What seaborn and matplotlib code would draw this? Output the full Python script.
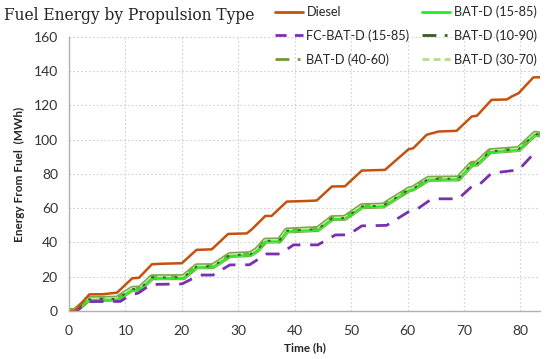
#!/usr/bin/env python3
"""
plot.py - cumulative fuel energy by propulsion type
Usage:
  python3 plot.py
"""
import pandas as pd
import matplotlib.pyplot as plt
from matplotlib.lines import Line2D
import seaborn as sns

# --- data (time in h, energy in MWh) ---
diesel_t = [0, 1.0, 3.6, 6.0, 8.5, 11.2, 12.4, 14.7, 16.5, 20.0, 22.6, 25.3, 28.2,
            31.5, 32.4, 34.8, 35.9, 38.6, 41.8, 43.9, 46.6, 48.9, 51.9, 56.0, 60.2,
            61.0, 63.4, 65.5, 68.7, 71.4, 72.3, 74.9, 77.6, 78.5, 79.7, 82.3, 83.5]
diesel_e = [0, 0, 9.7, 9.8, 10.7, 19.1, 19.4, 27.3, 27.6, 27.9, 35.7, 36.0, 45.0,
            45.3, 47.7, 55.5, 55.5, 63.9, 64.2, 64.5, 72.7, 72.8, 82.0, 82.4, 94.5,
            95.0, 102.9, 104.8, 105.2, 113.6, 114.0, 123.3, 123.5, 125.3, 127.2, 136.4, 136.5]

fc_t = [0, 1.2, 3.5, 9.1, 10.9, 12.3, 14.5, 20.0, 23.2, 25.5, 28.5, 32.0, 35.0,
        37.4, 39.8, 44.1, 47.2, 49.5, 51.9, 56.3, 60.5, 61.5, 64.3, 69.0, 71.7,
        72.8, 74.9, 79.7, 82.3]
fc_e = [0, 0, 5.5, 5.6, 9.4, 10.5, 15.5, 15.8, 21.0, 21.0, 26.9, 27.0, 33.3,
        33.3, 38.6, 38.6, 44.4, 44.5, 49.7, 50.0, 58.6, 59.0, 65.5, 65.5, 73.6,
        74.0, 80.5, 82.4, 91.6]

bat_t = [0, 1.0, 3.5, 8.5, 11.2, 12.6, 14.7, 20.3, 22.6, 25.5, 28.5, 32.1, 33.3,
         34.8, 37.3, 38.6, 44.1, 46.6, 48.9, 51.9, 55.7, 60.2, 61.0, 63.7, 69.0,
         71.4, 72.3, 74.6, 79.7, 82.6, 83.5]
bat_1585_e = [0, 0, 6.4, 6.6, 12.3, 12.6, 19.1, 19.2, 25.5, 25.6, 32.1, 32.6, 35.0,
              40.5, 40.6, 46.4, 47.3, 53.6, 53.8, 60.6, 61.0, 70.3, 71.0, 76.6, 76.8,
              85.3, 85.5, 92.7, 94.0, 102.9, 102.5]
bat_1090_e = [0, 0, 6.9, 7.1, 12.8, 13.1, 19.6, 19.7, 26.0, 26.1, 32.6, 33.1, 35.5,
              41.0, 41.1, 46.9, 47.8, 54.1, 54.3, 61.1, 61.5, 70.8, 71.5, 77.1, 77.3,
              85.8, 86.0, 93.2, 94.5, 103.4, 103.0]
bat_4060_e = [0, 0, 7.0, 7.2, 12.9, 13.2, 19.7, 19.8, 26.1, 26.2, 32.7, 33.2, 35.6,
              41.1, 41.2, 47.0, 47.9, 54.2, 54.4, 61.2, 61.6, 70.9, 71.6, 77.2, 77.4,
              85.9, 86.1, 93.3, 94.6, 103.5, 103.1]
bat_3070_e = [0, 0, 6.8, 7.0, 12.7, 13.0, 19.5, 19.6, 25.9, 26.0, 32.5, 33.0, 35.4,
              40.9, 41.0, 46.8, 47.7, 54.0, 54.2, 61.0, 61.4, 70.7, 71.4, 77.0, 77.2,
              85.7, 85.9, 93.1, 94.4, 103.3, 102.9]

x_ticks = [0, 10, 20, 30, 40, 50, 60, 70, 80]
y_ticks = [0, 20, 40, 60, 80, 100, 120, 140, 160]


def frame(t, e, name):
    return pd.DataFrame({"Time (h)": t, "Energy": e, "series": name})


def main():
    sns.set_style("white")
    plt.rcParams["font.family"] = ["Lato", "DejaVu Sans"]

    fig = plt.figure(figsize=(5.5, 3.59), dpi=100)
    ax = fig.add_axes([0.1255, 0.1337, 0.982 - 0.1255, 0.897 - 0.1337])

    # (data, colour, width, dash pattern), drawn bottom to top
    layers = [
        (frame(bat_t, bat_4060_e, "BAT-D (40-60)"), "#7FA848", 4.4, None),
        (frame(bat_t, bat_3070_e, "BAT-D (30-70)"), "#CDE4B0", 2.6, (4, 1.5)),
        (frame(bat_t, bat_1585_e, "BAT-D (15-85)"), "#22EE22", 1.5, None),
        (frame(bat_t, bat_1090_e, "BAT-D (10-90)"), "#3B5A1E", 1.3, (1.5, 5)),
        (frame(fc_t, fc_e, "FC-BAT-D (15-85)"), "#7A2FB0", 2.0, (5, 3.5)),
        (frame(diesel_t, diesel_e, "Diesel"), "#C4510E", 1.8, None),
    ]
    for df, color, lw, dash in layers:
        sns.lineplot(data=df, x="Time (h)", y="Energy", ax=ax, color=color,
                     lw=lw, legend=False, sort=False, estimator=None)
        if dash is not None:
            ax.get_lines()[-1].set_dashes(dash)

    ax.set_xlim(0, 83.5)
    ax.set_ylim(0, 160)
    ax.set_xticks(x_ticks)
    ax.set_yticks(y_ticks)
    ax.tick_params(axis="both", labelsize=10, labelcolor="#333333", length=4,
                   width=0.8, direction="out", color="#A6A6A6")
    ax.tick_params(axis="x", pad=6)
    ax.tick_params(axis="y", pad=4)
    ax.grid(True, linestyle=(0, (1.5, 2)), color="#D0D0D0", lw=0.8)
    for side in ["top", "right"]:
        ax.spines[side].set_visible(False)
    for side in ["left", "bottom"]:
        ax.spines[side].set_color("#B0B0B0")
        ax.spines[side].set_linewidth(1.0)

    ax.set_xlabel("Time (h)", fontsize=8.5, fontweight="bold", labelpad=4)
    ax.set_ylabel("Energy From Fuel  (MWh)", fontsize=8.5, fontweight="bold",
                  labelpad=6)

    # legend swatches as they appear in the reference key
    keys = [
        ("Diesel", "#C4510E", "-"),
        ("FC-BAT-D (15-85)", "#7A2FB0", (0, (4, 3))),
        ("BAT-D (40-60)", "#6E9A34", (0, (5, 3, 1, 3))),
        ("BAT-D (15-85)", "#22EE22", "-"),
        ("BAT-D (10-90)", "#3B5A1E", (0, (5, 3, 1, 3))),
        ("BAT-D (30-70)", "#B7DA95", (0, (2.5, 1.5))),
    ]
    handles = [Line2D([], [], color=c, lw=2, linestyle=ls) for _, c, ls in keys]
    ax.legend(handles, [k[0] for k in keys], ncol=2, frameon=False,
              fontsize=9.2, loc="upper left", bbox_to_anchor=(272 / 550, 0.992),
              bbox_transform=fig.transFigure, handlelength=2.2,
              handletextpad=0.3, columnspacing=0.95, labelspacing=0.88,
              borderaxespad=0.0, borderpad=0.2)

    fig.text(0.008, 0.958, "Fuel Energy by Propulsion Type", fontsize=11.2,
             family="DejaVu Serif", va="center", ha="left", color="#222222")

    fig.savefig("out.png", dpi=100)


if __name__ == "__main__":
    main()
